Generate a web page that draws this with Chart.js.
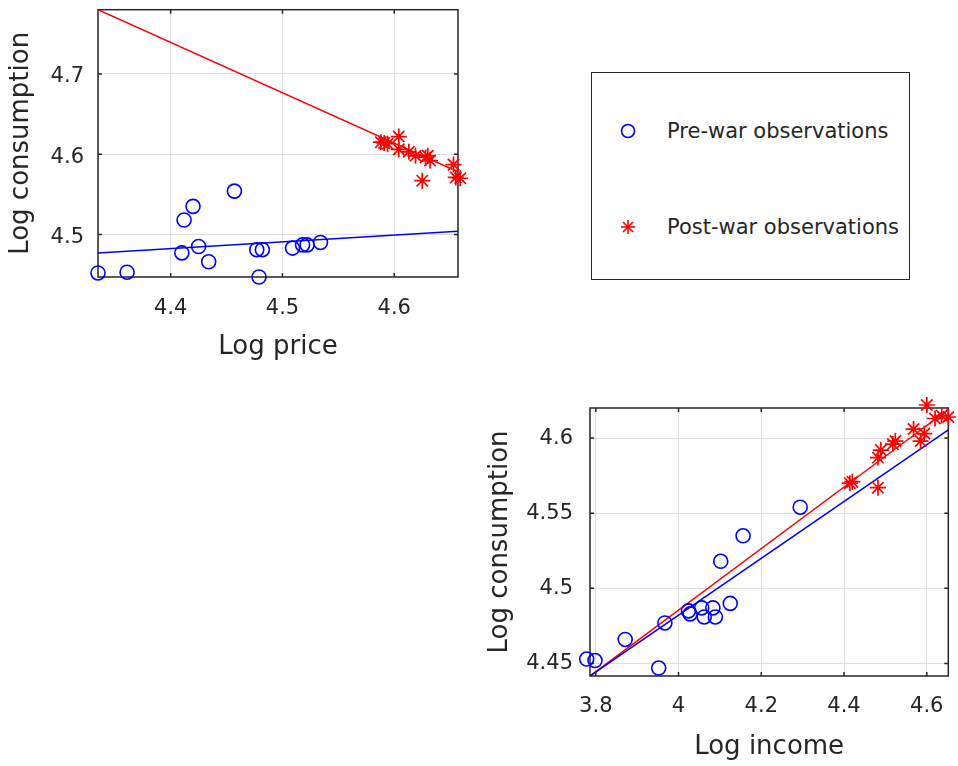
<!DOCTYPE html>
<html>
<head>
<meta charset="utf-8">
<script src="https://cdn.jsdelivr.net/npm/chart.js@4.4.0/dist/chart.umd.min.js"></script>
<style>
  body { margin: 0; background: #fff; width: 958px; height: 766px; position: relative; overflow: hidden; }
  canvas { position: absolute; }
  #priceChart { left: 0; top: 0; }
  #incomeChart { left: 480px; top: 390px; }
  .legend {
    position: absolute; left: 591px; top: 72px; width: 319px; height: 208px;
    border: 1.5px solid #262626; box-sizing: border-box;
    font-family: "DejaVu Sans", sans-serif; font-size: 21px; color: #262626;
  }
  .legend .item { position: absolute; left: 0; height: 30px; line-height: 30px; white-space: nowrap; }
  .legend svg { position: absolute; left: 28px; top: 7px; }
  .legend span { position: absolute; left: 75px; }
</style>
</head>
<body>
<canvas id="priceChart" width="470" height="370"></canvas>
<canvas id="incomeChart" width="478" height="376"></canvas>
<div class="legend">
  <div class="item" style="top:43px">
    <svg width="16" height="16"><circle cx="8" cy="8" r="6.5" fill="none" stroke="#0000ff" stroke-width="1.6"/></svg>
    <span>Pre-war observations</span>
  </div>
  <div class="item" style="top:139px">
    <svg width="16" height="16"><g stroke="#ff0000" stroke-width="1.6"><line x1="8" y1="1" x2="8" y2="15"/><line x1="1" y1="8" x2="15" y2="8"/><line x1="3" y1="3" x2="13" y2="13"/><line x1="13" y1="3" x2="3" y2="13"/></g></svg>
    <span>Post-war observations</span>
  </div>
</div>
<script>
// observaciones antes de la guerra (log)
const prePrice       = [4.479, 4.335, 4.361, 4.434, 4.410, 4.477, 4.482, 4.509, 4.425, 4.518, 4.522, 4.534, 4.412, 4.420, 4.457];
const preIncome      = [3.952, 3.798, 3.778, 3.871, 3.967, 4.062, 4.089, 4.028, 4.024, 4.056, 4.083, 4.125, 4.102, 4.156, 4.294];
const preConsumption = [4.447, 4.452, 4.453, 4.466, 4.477, 4.481, 4.481, 4.483, 4.485, 4.487, 4.487, 4.490, 4.518, 4.535, 4.554];

// observaciones despues de la guerra
const postPrice       = [4.625, 4.659, 4.655, 4.653, 4.632, 4.628, 4.630, 4.619, 4.613, 4.604, 4.594, 4.588, 4.591, 4.604];
const postIncome      = [4.482, 4.414, 4.420, 4.482, 4.489, 4.518, 4.524, 4.585, 4.594, 4.568, 4.620, 4.636, 4.652, 4.600];
const postConsumption = [4.567, 4.570, 4.571, 4.587, 4.592, 4.596, 4.598, 4.598, 4.603, 4.606, 4.613, 4.615, 4.614, 4.622];

// rectas ajustadas (extremos)
const priceFitX   = [4.335, 4.657];
const preFitPrice = [4.477, 4.504];
const postFitPrice = [4.780, 4.578];
const incomeFitX   = [3.786, 4.652];
const preFitIncome = [4.4417, 4.6055];
const postFitIncome = [4.4417, 4.619];

// ticks
const priceTicks = [4.4, 4.5, 4.6];
const priceConsTicks = [4.5, 4.6, 4.7];
const incomeTicks = [3.8, 4, 4.2, 4.4, 4.6];
const incomeConsTicks = [4.45, 4.5, 4.55, 4.6];

const BLUE = '#0000ff';
const RED = '#ff0000';
const INK = '#262626';
const FONT = '"DejaVu Sans", sans-serif';

Chart.defaults.font.family = FONT;
Chart.defaults.color = INK;

const toPoints = (xs, ys) => xs.map((x, i) => ({ x: x, y: ys[i] }));
const fmt = v => String(Number(v.toFixed(2)));

// sin relleno extra que mete chart.js por las etiquetas
function noLabelPadding(s) {
  s.paddingTop = 0; s.paddingBottom = 0; s.paddingLeft = 0; s.paddingRight = 0;
}

// caja de ejes tipo matlab con marcas hacia dentro
const boxPlugin = {
  id: 'box',
  beforeDatasetsDraw(chart) {
    const { ctx, chartArea: a, scales } = chart;
    ctx.save();
    ctx.strokeStyle = INK;
    ctx.lineWidth = 1.5;
    ctx.beginPath();
    scales.x.ticks.forEach(t => {
      const x = scales.x.getPixelForValue(t.value);
      ctx.moveTo(x, a.bottom); ctx.lineTo(x, a.bottom - 4);
      ctx.moveTo(x, a.top); ctx.lineTo(x, a.top + 4);
    });
    scales.y.ticks.forEach(t => {
      const y = scales.y.getPixelForValue(t.value);
      ctx.moveTo(a.left, y); ctx.lineTo(a.left + 4, y);
      ctx.moveTo(a.right, y); ctx.lineTo(a.right - 4, y);
    });
    ctx.stroke();
    ctx.strokeRect(a.left, a.top, a.right - a.left, a.bottom - a.top);
    ctx.restore();
  }
};

function makePlot(id, o) {
  const ctx = document.getElementById(id).getContext('2d');
  return new Chart(ctx, {
    type: 'scatter',
    data: {
      datasets: [
        { data: toPoints(o.preX, preConsumption), pointStyle: 'circle', pointRadius: 7, borderColor: BLUE, backgroundColor: 'rgba(0,0,0,0)', borderWidth: 1.6, clip: false },
        { data: toPoints(o.postX, postConsumption), pointStyle: 'star', pointRadius: 8, borderColor: RED, backgroundColor: RED, borderWidth: 1.7, clip: false },
        { data: toPoints(o.fitX, o.preFit), showLine: true, pointRadius: 0, borderColor: BLUE, borderWidth: 1.5 },
        { data: toPoints(o.fitX, o.postFit), showLine: true, pointRadius: 0, borderColor: RED, borderWidth: 1.5 }
      ]
    },
    options: {
      responsive: false,
      animation: false,
      layout: { padding: o.padding },
      plugins: { legend: { display: false }, tooltip: { enabled: false } },
      scales: {
        x: {
          type: 'linear', min: o.xMin, max: o.xMax,
          afterBuildTicks: s => { s.ticks = o.xTicks.map(v => ({ value: v })); },
          afterFit: s => { s.height = o.xAxisH; noLabelPadding(s); },
          grid: { color: '#dedede', drawTicks: false },
          border: { display: false },
          ticks: { font: { size: 21 }, padding: o.xTickPad, maxRotation: 0, callback: fmt },
          title: { display: true, text: o.xTitle, font: { size: 26 }, padding: { top: 0, bottom: o.xTitlePad } }
        },
        y: {
          type: 'linear', min: o.yMin, max: o.yMax,
          afterBuildTicks: s => { s.ticks = o.yTicks.map(v => ({ value: v })); },
          afterFit: s => { s.width = o.yAxisW; noLabelPadding(s); },
          grid: { color: '#dedede', drawTicks: false },
          border: { display: false },
          ticks: { font: { size: 21 }, padding: o.yTickPad, labelOffset: o.yLabelOffset, callback: fmt },
          title: { display: true, text: 'Log consumption', font: { size: 26 }, padding: { top: o.yTitlePad, bottom: 0 } }
        }
      }
    },
    plugins: [boxPlugin]
  });
}

makePlot('priceChart', {
  preX: prePrice, postX: postPrice,
  fitX: priceFitX, preFit: preFitPrice, postFit: postFitPrice,
  xMin: 4.335, xMax: 4.657, yMin: 4.447, yMax: 4.78,
  xTicks: priceTicks, yTicks: priceConsTicks,
  xTitle: 'Log price',
  padding: { left: 0, top: 7, right: 12, bottom: 0 },
  xAxisH: 93, yAxisW: 98,
  xTickPad: 19, yTickPad: 14, yLabelOffset: 3,
  xTitlePad: 6.7, yTitlePad: 6
});

makePlot('incomeChart', {
  preX: preIncome, postX: postIncome,
  fitX: incomeFitX, preFit: preFitIncome, postFit: postFitIncome,
  xMin: 3.786, xMax: 4.652, yMin: 4.4417, yMax: 4.62,
  xTicks: incomeTicks, yTicks: incomeConsTicks,
  xTitle: 'Log income',
  padding: { left: 0, top: 18, right: 7, bottom: 0 },
  xAxisH: 90, yAxisW: 110,
  xTickPad: 18, yTickPad: 17, yLabelOffset: 0,
  xTitlePad: 2.7, yTitlePad: 4.4
});
</script>
</body>
</html>
